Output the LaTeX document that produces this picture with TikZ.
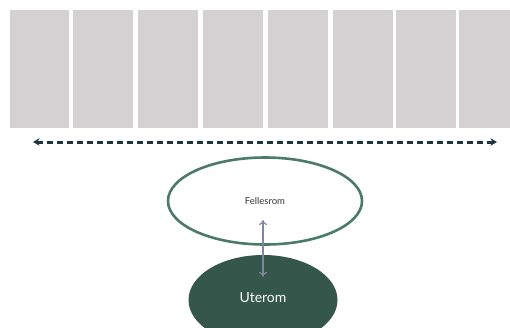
\documentclass[tikz,border=0pt]{standalone}
\usepackage{fontspec}
\setmainfont{Lato}
\usetikzlibrary{arrows.meta,shapes.geometric}
\definecolor{panelgray}{HTML}{D3D1D2}
\definecolor{dashteal}{HTML}{1C3641}
\definecolor{ringgreen}{HTML}{4A7B68}
\definecolor{darkgreen}{HTML}{35564A}
\definecolor{arrowblue}{HTML}{7E87A0}
\tikzset{
  panel/.style={fill=panelgray, draw=none},
  ring/.style={ellipse, draw=ringgreen, line width=2.6pt, fill=white, inner sep=0pt},
  blob/.style={ellipse, fill=darkgreen, draw=none, inner sep=0pt},
  spanarrow/.style={dashteal, line width=3pt, dash pattern=on 5.5pt off 4.5pt, {Stealth[length=6.5pt,width=7.5pt]}-{Stealth[length=6.5pt,width=7.5pt]}},
  linkarrow/.style={arrowblue, line width=1.1pt, {To[length=5pt,width=8pt]}-{To[length=5pt,width=8pt]}},
}
\begin{document}
\begin{tikzpicture}[x=1pt,y=-1pt]
\useasboundingbox (0,0) rectangle (510,327);
\clip (0,0) rectangle (510,327);
\foreach \i/\a/\b in {1/10/69,2/73/133,3/138/198,4/203/263,5/268/328,6/333/393,7/396/456,8/459/519}{
  \path[panel] (\a,10) rectangle (\b,128);
}
\coordinate (L) at (33,142);
\coordinate (R) at (497,142);
\draw[spanarrow] (L) -- (R);
\node[ring, minimum width=194pt, minimum height=87pt] (fell) at (265,201) {};
\node[font=\fontsize{9.5}{11}\selectfont, text=black!80] (fellt) at (fell.center) {Fellesrom};
\node[blob, minimum width=149pt, minimum height=90pt] (ute) at (263,300) {};
\node[font=\fontsize{14}{16}\selectfont, text=white] (utet) at (263,298) {Uterom};
\draw[linkarrow] ([xshift=-2pt,yshift=-19pt]fell.center) -- ([yshift=-22pt]ute.north);
\end{tikzpicture}
\end{document}
